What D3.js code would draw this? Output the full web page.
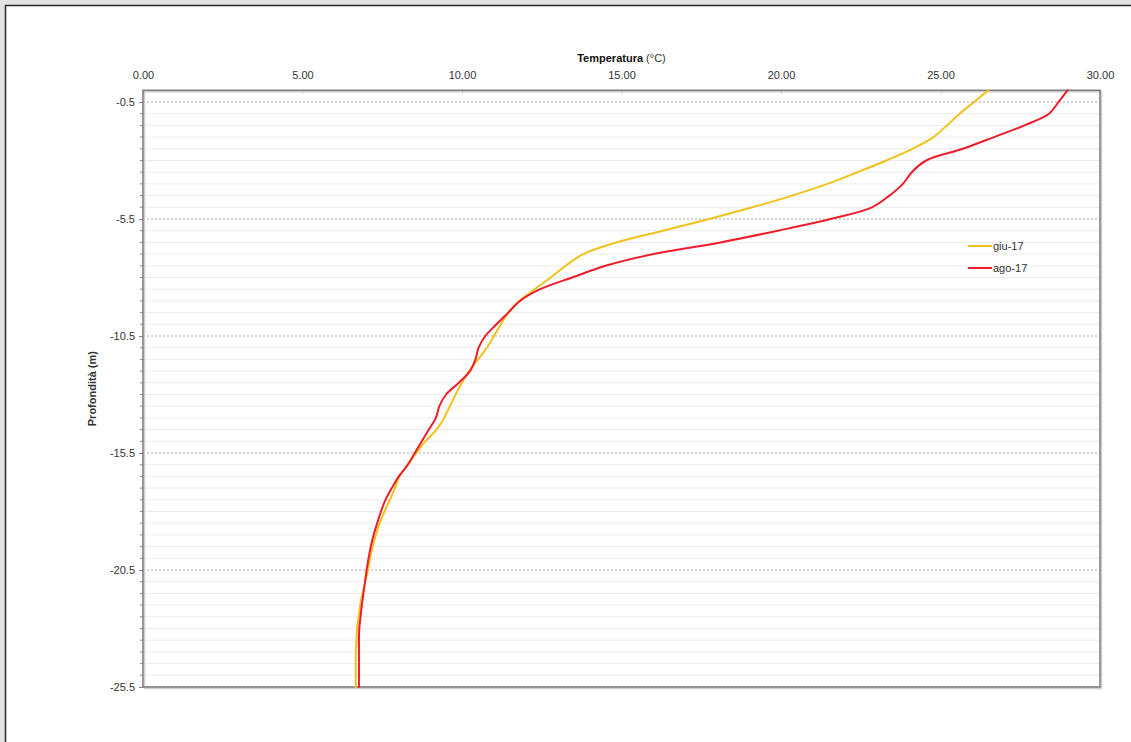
<!DOCTYPE html>
<html>
<head>
<meta charset="utf-8">
<script src="https://cdn.jsdelivr.net/npm/d3@7"></script>
<style>
    body { margin: 0; background: #fff; }
    text { font-family: "Liberation Sans", Arial, sans-serif; fill: #333; }
</style>
</head>
<body>
<div class="profile-chart"></div>
<script>

// depth (m) shared by both series
const depths = [0, -0.5, -1, -1.5, -2, -2.5, -3, -3.5, -4, -4.5, -5, -5.5, -6, -6.5, -7, -7.5, -8, -8.5, -9, -9.5,
    -10, -10.5, -11, -11.5, -12, -12.5, -13, -13.5, -14, -14.5, -15, -15.5, -16, -16.5, -17, -17.5, -18, -18.5, -19, -19.5,
    -20, -20.5, -21, -21.5, -22, -22.5, -23, -23.5, -24, -25, -25.5];

const giu17 = [26.5, 26.05, 25.6, 25.2, 24.78, 24.12, 23.3, 22.4, 21.46, 20.35, 19.1, 17.75, 16.3, 14.85, 13.8, 13.25, 12.78, 12.28, 11.8, 11.45,
    11.22, 11.0, 10.78, 10.5, 10.22, 10.0, 9.8, 9.62, 9.44, 9.2, 8.85, 8.57, 8.3, 8.04, 7.9, 7.74, 7.57, 7.42, 7.3, 7.2,
    7.12, 7.05, 6.97, 6.88, 6.81, 6.76, 6.71, 6.69, 6.67, 6.67, 6.67];

const ago17 = [28.98, 28.7, 28.4, 27.63, 26.68, 25.7, 24.55, 24.1, 23.82, 23.4, 22.85, 21.55, 19.9, 18.1, 16.0, 14.5, 13.45, 12.45, 11.82, 11.45,
    11.08, 10.73, 10.52, 10.42, 10.25, 9.9, 9.5, 9.29, 9.18, 8.96, 8.74, 8.52, 8.3, 8.02, 7.8, 7.6, 7.46, 7.34, 7.23, 7.14,
    7.07, 7.01, 6.96, 6.91, 6.86, 6.82, 6.78, 6.77, 6.77, 6.77, 6.77];

const seriesNames = ["giu-17", "ago-17"];
const seriesColors = ["#f1c21c", "#ee1d2b"];

const xTicks = [0, 5, 10, 15, 20, 25, 30];
const yTicks = [-0.5, -5.5, -10.5, -15.5, -20.5, -25.5];

const width = 1131;
const height = 742;
const margin = ({top: 90.3, right: 31, bottom: 55, left: 143});

const x = d3.scaleLinear()
    .domain([0, 30])
    .range([margin.left, width - margin.right]);

const y = d3.scaleLinear()
    .domain([0, -25.5])
    .range([margin.top, height - margin.bottom]);

const svg = d3.select(".profile-chart").append("svg")
    .attr("width", width)
    .attr("height", height);

// page frame (top and left only, screenshot is cropped)
svg.append("rect").attr("x", 0).attr("y", 0).attr("width", width).attr("height", 5).attr("fill", "#e3e3e3");
svg.append("rect").attr("x", 0).attr("y", 0).attr("width", 5).attr("height", height).attr("fill", "#e3e3e3");
svg.append("path")
    .attr("d", `M5.5,${height}V5.5H${width}`)
    .attr("fill", "none")
    .attr("stroke", "#2a2a2a")
    .attr("stroke-width", 1.5);

// minor grid every 0.5 m
const minor = d3.range(0, -25.5, -0.5).filter(d => !yTicks.includes(d) && d !== 0);
svg.append("g")
    .selectAll("line")
    .data(minor)
    .join("line")
    .attr("x1", x(0))
    .attr("x2", x(30))
    .attr("y1", d => y(d))
    .attr("y2", d => y(d))
    .attr("stroke", "#ececec")
    .attr("stroke-width", 1);

// minor ticks on left axis
svg.append("g")
    .selectAll("line")
    .data(minor)
    .join("line")
    .attr("x1", x(0) - 3)
    .attr("x2", x(0))
    .attr("y1", d => y(d))
    .attr("y2", d => y(d))
    .attr("stroke", "#888")
    .attr("stroke-width", 1);

// major dashed grid
svg.append("g")
    .selectAll("line")
    .data(yTicks)
    .join("line")
    .attr("x1", x(0))
    .attr("x2", x(30))
    .attr("y1", d => y(d))
    .attr("y2", d => y(d))
    .attr("stroke", "#a8a8a8")
    .attr("stroke-width", 1)
    .attr("stroke-dasharray", "2,2");

// top axis
const xAxis = g => g
    .attr("transform", `translate(0,${y(0)})`)
    .call(d3.axisTop(x).tickValues(xTicks).tickFormat(d => d.toFixed(2)).tickSize(3).tickPadding(8))
    .call(g => g.select(".domain").remove())
    .call(g => g.selectAll(".tick line").attr("stroke", "#999").attr("transform", "translate(0,3)"))
    .call(g => g.selectAll(".tick text").attr("font-size", 11).attr("fill", "#333")
        .attr("font-family", "'Liberation Sans', Arial, sans-serif"));

const yAxis = g => g
    .attr("transform", `translate(${x(0)},0)`)
    .call(d3.axisLeft(y).tickValues(yTicks).tickFormat(d => d.toFixed(1)).tickSize(4).tickPadding(4))
    .call(g => g.select(".domain").remove())
    .call(g => g.selectAll(".tick line").attr("stroke", "#888"))
    .call(g => g.selectAll(".tick text").attr("font-size", 11).attr("fill", "#333")
        .attr("font-family", "'Liberation Sans', Arial, sans-serif"));

svg.append("g").call(xAxis);
svg.append("g").call(yAxis);

// plot frame with a faint shadow
svg.append("rect")
    .attr("x", x(0) + 1.5)
    .attr("y", y(0) + 1.5)
    .attr("width", x(30) - x(0))
    .attr("height", y(-25.5) - y(0))
    .attr("fill", "none")
    .attr("stroke", "#d0d0d0")
    .attr("stroke-width", 1.5);

svg.append("rect")
    .attr("x", x(0))
    .attr("y", y(0))
    .attr("width", x(30) - x(0))
    .attr("height", y(-25.5) - y(0))
    .attr("fill", "none")
    .attr("stroke", "#7a7a7a")
    .attr("stroke-width", 1.5);

// axis titles
const xTitle = svg.append("text")
    .attr("x", (x(0) + x(30)) / 2)
    .attr("y", 62)
    .attr("text-anchor", "middle")
    .attr("font-size", 11);
xTitle.append("tspan").attr("font-weight", "bold").attr("fill", "#111").text("Temperatura");
xTitle.append("tspan").attr("fill", "#333").text(" (°C)");

svg.append("text")
    .attr("transform", `translate(96,${(y(0) + y(-25.5)) / 2}) rotate(-90)`)
    .attr("text-anchor", "middle")
    .attr("font-size", 11)
    .attr("font-weight", "bold")
    .attr("fill", "#111")
    .text("Profondità (m)");

// profiles
const series = [giu17, ago17];

const profileLine = d3.line()
    .x(d => x(d[0]))
    .y(d => y(d[1]))
    .curve(d3.curveCatmullRom.alpha(0.5));

series.forEach((values, i) => {
    svg.append("path")
        .datum(values.map((v, j) => [v, depths[j]]))
        .attr("fill", "none")
        .attr("stroke", seriesColors[i])
        .attr("stroke-width", 2)
        .attr("stroke-linejoin", "round")
        .attr("stroke-linecap", "round")
        .attr("d", profileLine);
});

// legend
const legend = svg.append("g")
    .attr("transform", "translate(968,246)");

seriesNames.forEach((name, i) => {
    const row = legend.append("g").attr("transform", `translate(0,${i * 22})`);
    row.append("line")
        .attr("x1", 0)
        .attr("x2", 24)
        .attr("stroke", seriesColors[i])
        .attr("stroke-width", 2);
    row.append("text")
        .attr("x", 25)
        .attr("y", 4)
        .attr("font-size", 11)
        .attr("fill", "#222")
        .text(name);
});

</script>
</body>
</html>
